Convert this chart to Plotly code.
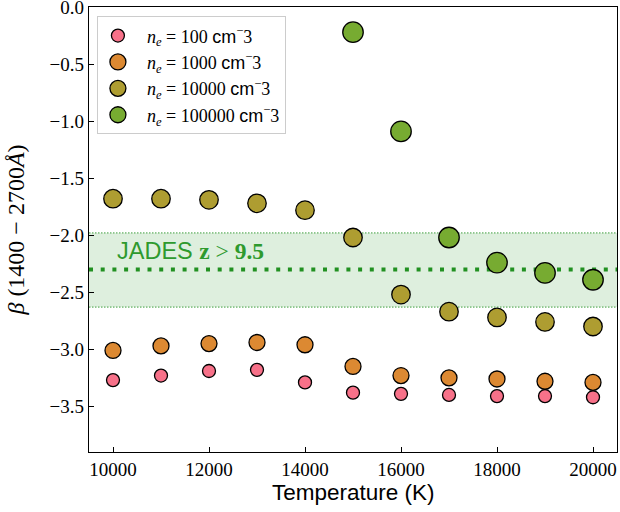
import plotly.graph_objects as go

temperature = [10000, 11000, 12000, 13000, 14000, 15000, 16000, 17000, 18000, 19000, 20000]
beta_ne100 = [-3.27, -3.23, -3.19, -3.18, -3.29, -3.38, -3.39, -3.40, -3.41, -3.41, -3.42]
beta_ne1000 = [-3.01, -2.97, -2.95, -2.94, -2.96, -3.15, -3.23, -3.25, -3.26, -3.28, -3.29]
beta_ne10000 = [-1.68, -1.68, -1.69, -1.72, -1.78, -2.02, -2.52, -2.67, -2.72, -2.76, -2.80]
temperature_ne100000 = [14000, 15000, 16000, 17000, 18000, 19000, 20000]
beta_ne100000 = [0.07, -0.22, -1.09, -2.02, -2.24, -2.33, -2.39]

series_labels = ["100", "1000", "10000", "100000"]
series_colors = ["#f77189", "#dc8932", "#ae9d31", "#77ab31"]
series_sizes = [13, 16, 18.5, 20.5]

jades_beta = -2.30
jades_low = -2.63
jades_high = -1.98

x_range = [9500, 20500]
y_range = [-3.9, 0.0005]
x_ticks = [10000, 12000, 14000, 16000, 18000, 20000]
y_ticks = [0.0, -0.5, -1.0, -1.5, -2.0, -2.5, -3.0, -3.5]

SERIF = "Liberation Serif"
SANS = "Liberation Sans"

fig = go.Figure()

xs = [temperature, temperature, temperature, temperature_ne100000]
ys = [beta_ne100, beta_ne1000, beta_ne10000, beta_ne100000]
for x, y, lab, col, sz in zip(xs, ys, series_labels, series_colors, series_sizes):
    fig.add_trace(go.Scatter(
        x=x, y=y, mode="markers",
        name=f"&nbsp;&nbsp;<i>n<sub>e</sub></i> = {lab} <span style='font-family:{SANS}'>cm</span><sup>−</sup>3",
        marker=dict(color=col, size=sz, line=dict(color="black", width=1.3)),
        cliponaxis=False,
    ))

# JADES band
fig.add_shape(type="rect", xref="paper", yref="y", x0=0, x1=1, y0=jades_low, y1=jades_high,
              fillcolor="rgba(0,128,0,0.13)", line=dict(width=0), layer="below")
for yv in (jades_low, jades_high):
    fig.add_shape(type="line", xref="paper", yref="y", x0=0, x1=1, y0=yv, y1=yv,
                  line=dict(color="rgba(0,128,0,0.6)", width=1.2, dash="1.5px,1.5px"), layer="below")
fig.add_shape(type="line", xref="paper", yref="y", x0=0, x1=1, y0=jades_beta, y1=jades_beta,
              line=dict(color="rgba(0,128,0,0.85)", width=4, dash="4px,7.7px"), layer="below")

fig.add_annotation(x=10050, y=-2.14, xref="x", yref="y", xanchor="left", yanchor="middle",
                   showarrow=False,
                   text=f"JADES <span style='font-family:{SERIF}'><b>z</b> &gt; <b>9.5</b></span>",
                   font=dict(family=SANS, size=23.5, color="#2e9a2e"))

# x-axis title placed as an annotation to match the tight spacing of the reference
fig.add_annotation(x=0.5, y=0, xref="paper", yref="paper", xanchor="center", yanchor="top",
                   yshift=-26, showarrow=False, text="Temperature (K)",
                   font=dict(family=SANS, size=22.5, color="black"))

fig.update_layout(
    width=620, height=512,
    margin=dict(l=89, r=3, t=7, b=60),
    plot_bgcolor="white", paper_bgcolor="white",
    showlegend=True,
    legend=dict(x=0.015, y=0.979, xanchor="left", yanchor="top",
                bgcolor="rgba(255,255,255,0.8)", bordercolor="#cccccc", borderwidth=1,
                font=dict(family=SERIF, size=18, color="black"),
                itemsizing="trace", tracegroupgap=0),
    font=dict(family=SERIF, color="black"),
)
fig.update_xaxes(range=x_range, tickvals=x_ticks, ticktext=[str(v) for v in x_ticks],
                 automargin=False, ticklabeloverflow="allow",
                 ticks="inside", ticklen=5, tickwidth=1.2, tickcolor="black",
                 showline=True, linecolor="black", linewidth=1.3, mirror=True,
                 showgrid=False, zeroline=False,
                 tickfont=dict(family=SERIF, size=19, color="black"))
fig.update_yaxes(range=y_range, tickvals=y_ticks, ticktext=[f"{v:.1f}".replace("-", "−") for v in y_ticks],
                 automargin=False, ticklabeloverflow="allow",
                 ticks="inside", ticklen=5, tickwidth=1.2, tickcolor="black",
                 showline=True, linecolor="black", linewidth=1.3, mirror=True,
                 showgrid=False, zeroline=False,
                 tickfont=dict(family=SERIF, size=19, color="black"),
                 title=dict(text="<i>β</i>&nbsp;(1400&nbsp;−&nbsp;2700<i>Å</i>)",
                            font=dict(family=SERIF, size=24, color="black"), standoff=18))

fig.write_html("out.html", config={"displayModeBar": False},
               post_script="document.body.style.margin='0';document.body.style.padding='0';document.body.style.overflow='hidden';")
